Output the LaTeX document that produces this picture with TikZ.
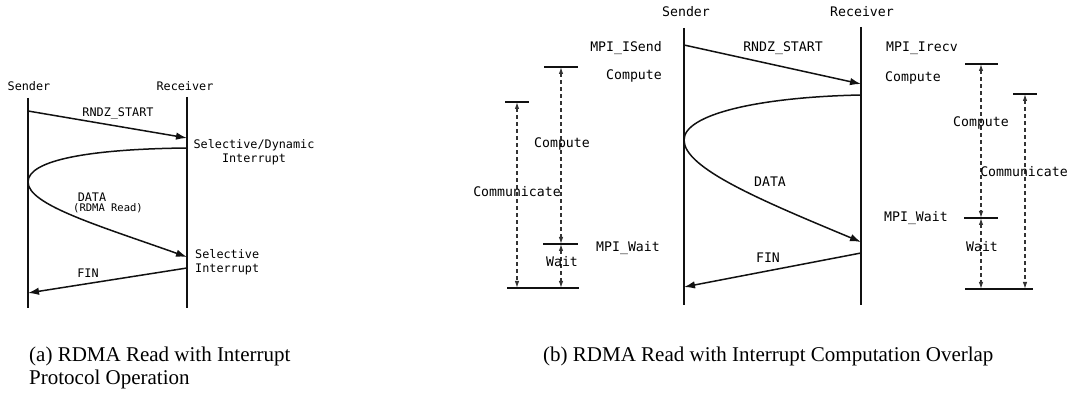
\documentclass[tikz,border=0pt]{standalone}
\usepackage{fontspec}
\setmainfont{Liberation Serif}
\newfontfamily\monofont{DejaVu Sans Mono}
\usetikzlibrary{arrows.meta, positioning}
\definecolor{InkBlack}{HTML}{111111}
\definecolor{DashGray}{HTML}{333333}
\tikzset{
  lifeline/.style={draw=InkBlack, line width=1.6pt},
  msg/.style={-{Latex[length=11pt, width=7.5pt]}, line width=1.5pt, draw=InkBlack},
  span/.style={{Latex[length=7pt, width=4.5pt]}-{Latex[length=7pt, width=4.5pt]}, dash pattern=on 4pt off 3pt, line width=1.2pt, draw=DashGray},
  tick/.style={line width=1.7pt, draw=InkBlack},
  lbla/.style={font=\monofont\fontsize{11.8}{14}\selectfont, inner sep=0pt, text height=8.6pt, text depth=0pt},
  lblsmall/.style={font=\monofont\fontsize{10.5}{12}\selectfont, inner sep=0pt, text height=7.7pt, text depth=0pt},
  lblb/.style={font=\monofont\fontsize{13.2}{15}\selectfont, inner sep=0pt, text height=9.6pt, text depth=0pt},
  twoline/.style={font=\monofont\fontsize{11.8}{14}\selectfont, inner sep=0pt},
  caption/.style={font=\fontsize{21}{22.5}\selectfont, inner sep=0pt, align=left}
}

\begin{document}
\begin{tikzpicture}[x=1pt, y=-1pt]
\useasboundingbox (0,0) rectangle (1068,395);

% (a)
\node[lbla] (aSender) at (29,86) {Sender};
\node[lbla] (aReceiver) at (185,86) {Receiver};
\coordinate (aS1) at (28,98);
\coordinate (aS2) at (28,308);
\coordinate (aR1) at (187,97);
\coordinate (aR2) at (187,308);
\draw[lifeline] (aS1) -- (aS2);
\draw[lifeline] (aR1) -- (aR2);
\coordinate (aRndzS) at (28,111);
\coordinate (aRndzR) at (187,138);
\coordinate (aReadR) at (187,148);
\coordinate (aReadS) at (28,182);
\coordinate (aDataR) at (187,257);
\coordinate (aFinR) at (187,268);
\coordinate (aFinS) at (28,293);
\draw[msg] (aRndzS) -- (aRndzR);
\draw[msg] (aReadR) .. controls (90,149) and (28,160) .. (aReadS)
  .. controls (28,205) and (100,226) .. (aDataR);
\draw[msg] (aFinR) -- (aFinS);
\node[lbla] (aRndz) at (118,112) {RNDZ\_START};
\node[twoline, align=center, anchor=north] (aDyn) at (254,139.5) {Selective/Dynamic\\Interrupt};
\node[lbla] (aData) at (92,197) {DATA};
\node[lblsmall] (aRead) at (108,208) {(RDMA Read)};
\node[twoline, align=left, anchor=north west] (aSel) at (195,249.5) {Selective\\Interrupt};
\node[lbla] (aFin) at (88,273) {FIN};
\node[caption, anchor=north west] (capA) at (29,347) {(a) RDMA Read with Interrupt\\Protocol Operation};

% (b)
\node[lblb] (bSender) at (686,12) {Sender};
\node[lblb] (bReceiver) at (862,12) {Receiver};
\coordinate (bS1) at (684,28);
\coordinate (bS2) at (684,305);
\coordinate (bR1) at (861,27);
\coordinate (bR2) at (861,305);
\draw[lifeline] (bS1) -- (bS2);
\draw[lifeline] (bR1) -- (bR2);
\coordinate (bRndzS) at (684,45);
\coordinate (bRndzR) at (861,84);
\coordinate (bReadR) at (861,95);
\coordinate (bReadS) at (684,140);
\coordinate (bDataR) at (861,242);
\coordinate (bFinR) at (861,253);
\coordinate (bFinS) at (684,287);
\draw[msg] (bRndzS) -- (bRndzR);
\draw[msg] (bReadR) .. controls (760,97) and (684,114) .. (bReadS)
  .. controls (684,168) and (760,200) .. (bDataR);
\draw[msg] (bFinR) -- (bFinS);
\node[lblb] (bRndz) at (783,47) {RNDZ\_START};
\node[lblb] (bData) at (770,182) {DATA};
\node[lblb] (bFin) at (768,258) {FIN};
\node[lblb, anchor=east] (bIsend) at (662,47) {MPI\_ISend};
\node[lblb, anchor=east] (bCompS) at (662,75) {Compute};
\node[lblb, anchor=east] (bWaitS) at (660,247) {MPI\_Wait};
\node[lblb, anchor=west] (bIrecv) at (886,47) {MPI\_Irecv};
\node[lblb, anchor=west] (bCompR) at (885,77) {Compute};
\node[lblb, anchor=west] (bWaitR) at (884,217) {MPI\_Wait};

% sender side spans
\coordinate (lCmpTop) at (561,67);
\coordinate (lCmpBot) at (561,244);
\coordinate (lWaitBot) at (561,288);
\coordinate (lComTop) at (517,102);
\coordinate (lComBot) at (517,288);
\draw[tick] (lCmpTop) ++(-17,0) -- ++(34,0);
\draw[tick] (lCmpBot) ++(-18,0) -- ++(35,0);
\draw[tick] (lComTop) ++(-12,0) -- ++(24,0);
\draw[tick] (lComBot) ++(-10,0) -- ++(72,0);
\draw[span] (lCmpTop) -- (lCmpBot);
\draw[span] (lCmpBot) -- (lWaitBot);
\draw[span] (lComTop) -- (lComBot);
\node[lblb] (lCmp) at (562,143) {Compute};
\node[lblb] (lCom) at (517,192) {Communicate};
\node[lblb] (lWait) at (562,262) {Wait};

% receiver side spans
\coordinate (rCmpTop) at (981,64);
\coordinate (rCmpBot) at (981,218);
\coordinate (rWaitBot) at (981,289);
\coordinate (rComTop) at (1025,94);
\coordinate (rComBot) at (1025,289);
\draw[tick] (rCmpTop) ++(-16,0) -- ++(33,0);
\draw[tick] (rCmpBot) ++(-17,0) -- ++(34,0);
\draw[tick] (rComTop) ++(-12,0) -- ++(24,0);
\draw[tick] (rWaitBot) ++(-16,0) -- ++(68,0);
\draw[span] (rCmpTop) -- (rCmpBot);
\draw[span] (rCmpBot) -- (rWaitBot);
\draw[span] (rComTop) -- (rComBot);
\node[lblb] (rCmp) at (981,122) {Compute};
\node[lblb] (rCom) at (1024,172) {Communicate};
\node[lblb] (rWait) at (982,247) {Wait};

\node[caption, anchor=north west] (capB) at (543,347) {(b) RDMA Read with Interrupt Computation Overlap};
\end{tikzpicture}
\end{document}
